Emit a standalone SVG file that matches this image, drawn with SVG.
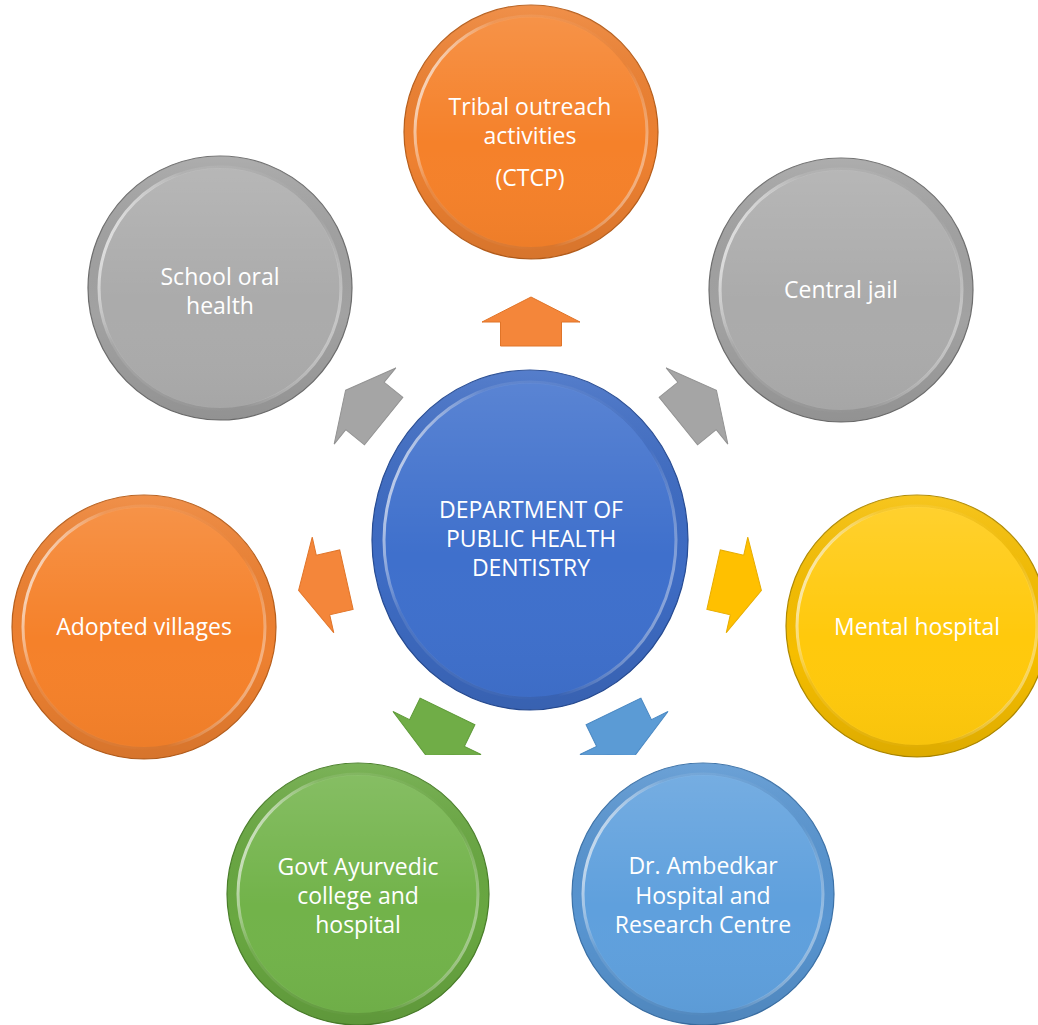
<svg xmlns="http://www.w3.org/2000/svg" width="1038" height="1025" viewBox="0 0 1038 1025">
<defs>
  <linearGradient id="faceShade" x1="0" y1="0" x2="0" y2="1">
    <stop offset="0" stop-color="#fff" stop-opacity="0.14"/>
    <stop offset="0.55" stop-color="#fff" stop-opacity="0"/>
    <stop offset="1" stop-color="#000" stop-opacity="0.03"/>
  </linearGradient>
  <linearGradient id="ringShade" x1="0" y1="0" x2="0" y2="1">
    <stop offset="0" stop-color="#fff" stop-opacity="0.12"/>
    <stop offset="0.6" stop-color="#000" stop-opacity="0"/>
    <stop offset="1" stop-color="#000" stop-opacity="0.1"/>
  </linearGradient>
  <linearGradient id="rimHL" x1="0" y1="0.3" x2="1" y2="0.7">
    <stop offset="0" stop-color="#fff" stop-opacity="0.75"/>
    <stop offset="0.2" stop-color="#fff" stop-opacity="0.1"/>
    <stop offset="0.75" stop-color="#fff" stop-opacity="0"/>
    <stop offset="1" stop-color="#fff" stop-opacity="0.45"/>
  </linearGradient>
  <clipPath id="lowClip"><rect x="0" y="0" width="1038" height="755"/></clipPath>
  <path id="arr" d="M0,-25 L49,0 L30.5,0 L30.5,24 L-30.5,24 L-30.5,0 L-49,0 Z"/>
</defs>
<style>
  .lbl { font-family: "Open Sans", "Noto Sans", "Liberation Sans", sans-serif; font-size: 23px; fill: #ffffff; text-anchor: middle; }
  .ring { stroke-width: 1.2; }
  .rim { fill: none; stroke: url(#rimHL); stroke-width: 3; }
  .shadeR { fill: url(#ringShade); }
  .shadeF { fill: url(#faceShade); }
  .or .ring { fill: #EE8131; stroke: #B85F1C; }
  .or .face { fill: #F5812A; }
  .gr .ring { fill: #A2A2A2; stroke: #6E6E6E; }
  .gr .face { fill: #ABABAB; }
  .ye .ring { fill: #F6BE00; stroke: #B08A00; }
  .ye .face { fill: #FFC90C; }
  .gn .ring { fill: #69A841; stroke: #4A7F2A; }
  .gn .face { fill: #72B34A; }
  .lb .ring { fill: #5895D1; stroke: #3C72A8; }
  .lb .face { fill: #5FA0DD; }
  .cb .ring { fill: #3E6CC4; stroke: #274C94; }
  .cb .face { fill: #3F70CC; }
  .a-or { fill: #F4863A; stroke: #E07428; }
  .a-gr { fill: #A5A5A5; stroke: #939393; }
  .a-ye { fill: #FFC000; stroke: #E6AC00; }
  .a-gn { fill: #70AD47; stroke: #5E9A38; }
  .a-lb { fill: #5B9BD5; stroke: #4A88C2; }
</style>
<rect width="1038" height="1025" fill="#ffffff"/>

<g id="connectors">
  <use href="#arr" class="a-or" transform="translate(531,322)"/>
  <use href="#arr" class="a-gr" transform="translate(365,406) rotate(-51)"/>
  <use href="#arr" class="a-gr" transform="translate(697,406) rotate(51)"/>
  <use href="#arr" class="a-or" transform="translate(323,585) rotate(-102.7)"/>
  <use href="#arr" class="a-ye" transform="translate(737,585) rotate(102.7)"/>
  <g clip-path="url(#lowClip)">
    <use href="#arr" class="a-gn" transform="translate(437,733) rotate(-154)"/>
    <use href="#arr" class="a-lb" transform="translate(624,733) rotate(154)"/>
  </g>
</g>

<g id="node-center" class="cb" transform="translate(530,540)">
  <ellipse class="ring" rx="158" ry="170"/>
  <ellipse class="shadeR" rx="158" ry="170"/>
  <ellipse class="face" rx="145" ry="157"/>
  <ellipse class="shadeF" rx="145" ry="157"/>
  <ellipse class="rim" rx="146" ry="158"/>
  <text class="lbl" x="1" y="-22">DEPARTMENT OF</text>
  <text class="lbl" x="1" y="7">PUBLIC HEALTH</text>
  <text class="lbl" x="1" y="36">DENTISTRY</text>
</g>

<g id="node-tribal" class="or" transform="translate(531,132)">
  <circle class="ring" r="127"/>
  <circle class="shadeR" r="127"/>
  <circle class="face" r="115"/>
  <circle class="shadeF" r="115"/>
  <circle class="rim" r="116"/>
  <text class="lbl" x="-1" y="-17">Tribal outreach</text>
  <text class="lbl" x="-1" y="12">activities</text>
  <text class="lbl" x="-1" y="54">(CTCP)</text>
</g>

<g id="node-school" class="gr" transform="translate(220,288)">
  <circle class="ring" r="132"/>
  <circle class="shadeR" r="132"/>
  <circle class="face" r="120"/>
  <circle class="shadeF" r="120"/>
  <circle class="rim" r="121"/>
  <text class="lbl" x="0" y="-3">School oral</text>
  <text class="lbl" x="0" y="26">health</text>
</g>

<g id="node-jail" class="gr" transform="translate(841,290)">
  <circle class="ring" r="132"/>
  <circle class="shadeR" r="132"/>
  <circle class="face" r="120"/>
  <circle class="shadeF" r="120"/>
  <circle class="rim" r="121"/>
  <text class="lbl" x="0" y="8">Central jail</text>
</g>

<g id="node-villages" class="or" transform="translate(144,627)">
  <circle class="ring" r="132"/>
  <circle class="shadeR" r="132"/>
  <circle class="face" r="120"/>
  <circle class="shadeF" r="120"/>
  <circle class="rim" r="121"/>
  <text class="lbl" x="0" y="8">Adopted villages</text>
</g>

<g id="node-mental" class="ye" transform="translate(917,626)">
  <circle class="ring" r="131"/>
  <circle class="shadeR" r="131"/>
  <circle class="face" r="119"/>
  <circle class="shadeF" r="119"/>
  <circle class="rim" r="120"/>
  <text class="lbl" x="0" y="9">Mental hospital</text>
</g>

<g id="node-govt" class="gn" transform="translate(358,894)">
  <circle class="ring" r="131"/>
  <circle class="shadeR" r="131"/>
  <circle class="face" r="119"/>
  <circle class="shadeF" r="119"/>
  <circle class="rim" r="120"/>
  <text class="lbl" x="0" y="-19">Govt Ayurvedic</text>
  <text class="lbl" x="0" y="10">college and</text>
  <text class="lbl" x="0" y="39">hospital</text>
</g>

<g id="node-ambedkar" class="lb" transform="translate(703,894)">
  <circle class="ring" r="131"/>
  <circle class="shadeR" r="131"/>
  <circle class="face" r="119"/>
  <circle class="shadeF" r="119"/>
  <circle class="rim" r="120"/>
  <text class="lbl" x="0" y="-20">Dr. Ambedkar</text>
  <text class="lbl" x="0" y="10">Hospital and</text>
  <text class="lbl" x="0" y="39">Research Centre</text>
</g>
</svg>
